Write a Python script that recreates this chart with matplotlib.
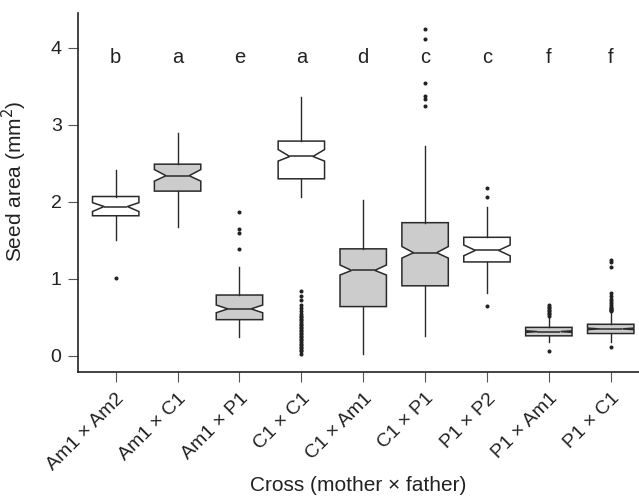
import matplotlib
matplotlib.use("Agg")
import matplotlib.pyplot as plt

plt.rcParams['font.family'] = ['Liberation Sans', 'DejaVu Sans']

crosses = ["Am1 × Am2", "Am1 × C1", "Am1 × P1", "C1 × C1", "C1 × Am1",
           "C1 × P1", "P1 × P2", "P1 × Am1", "P1 × C1"]
medians = [1.94, 2.34, 0.61, 2.59, 1.11, 1.34, 1.37, 0.315, 0.35]
q1 = [1.82, 2.14, 0.47, 2.30, 0.64, 0.91, 1.22, 0.26, 0.29]
q3 = [2.07, 2.49, 0.79, 2.79, 1.39, 1.73, 1.54, 0.37, 0.41]
ci_lo = [1.875, 2.27, 0.56, 2.53, 1.05, 1.27, 1.30, 0.305, 0.34]
ci_hi = [1.99, 2.42, 0.66, 2.68, 1.18, 1.42, 1.44, 0.325, 0.36]
whisk_lo = [1.50, 1.67, 0.25, 2.07, 0.02, 0.26, 0.82, 0.185, 0.185]
whisk_hi = [2.42, 2.89, 1.16, 3.36, 2.02, 2.73, 1.94, 0.50, 0.56]
outliers = [
    [1.01],
    [],
    [1.87, 1.65, 1.60, 1.39],
    [0.84, 0.78, 0.72, 0.66, 0.62, 0.58, 0.55, 0.52, 0.50, 0.48, 0.46, 0.44,
     0.42, 0.40, 0.38, 0.36, 0.34, 0.32, 0.30, 0.28, 0.26, 0.24, 0.22, 0.20,
     0.18, 0.16, 0.14, 0.12, 0.10, 0.08, 0.06, 0.02],
    [],
    [4.25, 4.12, 3.54, 3.37, 3.34, 3.24],
    [2.18, 2.07, 0.645],
    [0.66, 0.64, 0.62, 0.60, 0.58, 0.56, 0.54, 0.52, 0.065],
    [1.25, 1.22, 1.16, 0.82, 0.78, 0.74, 0.71, 0.68, 0.66, 0.64, 0.62, 0.61,
     0.60, 0.59, 0.58, 0.11],
]
fills = ["white", "#cccccc", "#cccccc", "white", "#cccccc", "#cccccc",
         "white", "#cccccc", "#cccccc"]
letters = ["b", "a", "e", "a", "d", "c", "c", "f", "f"]

line_col = "#2a2a2a"

fig = plt.figure(figsize=(6.39, 4.97), dpi=100)
ax = fig.add_axes([0.1225, 0.2515, 0.8775, 0.7225])

stats = []
for i in range(len(crosses)):
    stats.append(dict(med=medians[i], q1=q1[i], q3=q3[i], cilo=ci_lo[i],
                      cihi=ci_hi[i], whislo=whisk_lo[i], whishi=whisk_hi[i],
                      fliers=outliers[i], label=crosses[i]))

positions = list(range(1, len(crosses) + 1))
bp = ax.bxp(stats, positions=positions, widths=0.75, shownotches=True,
            showcaps=False, patch_artist=True,
            boxprops=dict(linewidth=1.1, edgecolor=line_col),
            medianprops=dict(color=line_col, linewidth=1.1),
            whiskerprops=dict(color=line_col, linewidth=1.0),
            flierprops=dict(marker='o', markersize=1.9, markerfacecolor='#222222',
                            markeredgecolor='#222222', linestyle='none'))
for patch, fc in zip(bp['boxes'], fills):
    patch.set_facecolor(fc)

for x, letter in zip(positions, letters):
    ax.text(x, 3.88, letter, ha='center', va='center', fontsize=14.5, color='#222222')

ax.set_xlim(0.395, 9.457)
ax.set_ylim(-0.21, 4.455)
ax.set_yticks([0, 1, 2, 3, 4])
ax.set_xticks(positions)
ax.set_xticklabels(crosses, rotation=45, ha='right', rotation_mode='anchor',
                   fontsize=14, color='#222222')
ax.tick_params(axis='y', labelsize=14, labelcolor='#222222', length=7,
               width=0.8, color='#555555', pad=5)
ax.tick_params(axis='x', length=7, width=0.8, color='#555555', pad=6)
for s in ['top', 'right']:
    ax.spines[s].set_visible(False)
for s in ['left', 'bottom']:
    ax.spines[s].set_linewidth(1.2)
    ax.spines[s].set_color('#222222')

ax.set_ylabel("Seed area (mm$^2$)", fontsize=15, color='#222222')
ax.yaxis.set_label_coords(-0.088, 0.53)
ax.set_xlabel("Cross (mother × father)", fontsize=15, color='#222222', labelpad=2)

fig.savefig("out.png", dpi=100)
